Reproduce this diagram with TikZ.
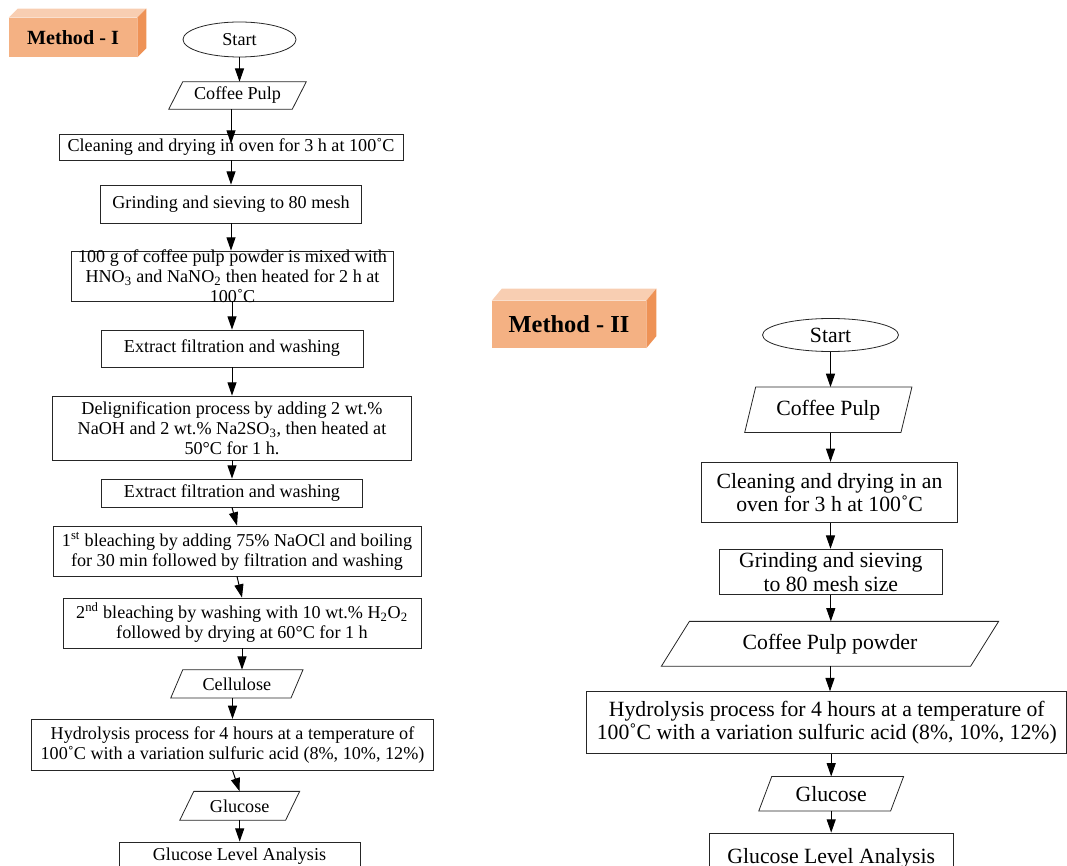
\documentclass[tikz,border=0pt]{standalone}
\usepackage{fontspec}
\setmainfont{Liberation Serif}
\usetikzlibrary{shapes.geometric,arrows.meta,calc}
\definecolor{mfront}{RGB}{244,177,131}
\definecolor{mtop}{RGB}{248,206,178}
\definecolor{mside}{RGB}{238,146,86}
\newcommand\fa{\fontsize{13.6}{15}\selectfont}
\newcommand\fb{\fontsize{16.3}{17.4}\selectfont}
\tikzset{
  sz/.style 2 args={minimum width=#1*0.75pt, minimum height=#2*0.75pt},
  edge/.style={draw=black!85, line width=0.6pt},
  box/.style={edge, rectangle, inner sep=0pt},
  para/.style={rectangle, inner sep=0pt},
  txa/.style={align=center, font=\fa, inner sep=0pt},
  txb/.style={align=center, font=\fb, inner sep=0pt},
  arr/.style={draw=black, line width=0.75pt, -{Triangle[length=10pt,width=6.8pt]}},
  mlab/.style={rectangle, fill=mfront, inner sep=0pt}
}
\newcommand\parashape[2]{\draw[edge] ($(#1.north west)+(#2*0.75pt,0pt)$) -- (#1.north east) -- ($(#1.south east)-(#2*0.75pt,0pt)$) -- (#1.south west) -- cycle;}
\newcommand\methodbox[3]{%
  \fill[mtop] (#1.north west) -- ++(#2*0.75pt,#3*0.75pt) -- ($(#1.north east)+(#2*0.75pt,#3*0.75pt)$) -- (#1.north east) -- cycle;
  \fill[mside] (#1.north east) -- ++(#2*0.75pt,#3*0.75pt) -- ($(#1.south east)+(#2*0.75pt,#3*0.75pt)$) -- (#1.south east) -- cycle;}
\begin{document}
\begin{tikzpicture}[x=0.75pt,y=-0.75pt]
\useasboundingbox (0,0) rectangle (1067,866);

% ---------- Method I ----------
\node[mlab, sz={128}{39}, font=\fontsize{15.1}{16}\selectfont\bfseries] (m1) at (73,37.5) {Method - I};
\methodbox{m1}{9}{9}

\node[ellipse, edge, sz={113}{35}, inner sep=0pt, font=\fa] (s1) at (239.5,39.5) {Start};
\node[para, sz={137}{27}, font=\fa] (cp1) at (237.5,95.5) {Coffee Pulp};
\parashape{cp1}{14}
\node[box, sz={344}{26}, label={[txa]center:Cleaning and drying in oven for 3 h at 100˚C}] (cl1) at (231,147) {};
\node[box, sz={261}{38}, label={[txa]center:Grinding and sieving to 80 mesh}] (gr1) at (231,204) {};
\node[box, sz={322}{50}, label={[txa]center:100 g of coffee pulp powder is mixed with\\HNO\textsubscript{3} and NaNO\textsubscript{2} then heated for 2 h at\\100˚C}] (mx1) at (232.5,276) {};
\node[box, sz={262}{37}, label={[txa]center:Extract filtration and washing}] (ex1) at (232,348.5) {};
\node[box, sz={359}{64}, label={[txa]center:Delignification process by adding 2 wt.\%\\NaOH and 2 wt.\% Na2SO\textsubscript{3}, then heated at\\50°C for 1 h.}] (dl1) at (232,428) {};
\node[box, sz={261}{28}, label={[txa]center:Extract filtration and washing}] (ex2) at (232,493) {};
\node[box, sz={368}{50}, label={[txa]center:1\textsuperscript{st} bleaching by adding 75\% NaOCl and boiling\\for 30 min followed by filtration and washing}] (bl1) at (237,551) {};
\node[box, sz={358}{50}, label={[txa]center:2\textsuperscript{nd} bleaching by washing with 10 wt.\% H\textsubscript{2}O\textsubscript{2}\\followed by drying at 60°C for 1 h}] (bl2) at (242,623) {};
\node[para, sz={131.7}{27.7}, font=\fa] (ce1) at (236.9,683.8) {Cellulose};
\parashape{ce1}{12}
\node[box, sz={401.7}{50.7}, label={[txa]center:Hydrolysis process for 4 hours at a temperature of\\100˚C with a variation sulfuric acid (8\%, 10\%, 12\%)}] (hy1) at (232.5,744.7) {};
\node[para, sz={119.3}{28.3}, font=\fa] (gl1) at (239.7,805.8) {Glucose};
\parashape{gl1}{14}
\node[box, sz={241}{28}, label={[txa]center:Glucose Level Analysis}] (ga1) at (239.5,856) {};

\draw[arr] (s1.south) -- (s1.south |- cp1.north);
\draw[arr] (cp1.south -| cl1.north) -- ($(cl1.north)+(0,10)$);
\draw[arr] (cl1.south) -- (cl1.south |- gr1.north);
\draw[arr] (gr1.south) -- (gr1.south |- mx1.north);
\draw[arr] (mx1.south -| ex1.north) -- (ex1.north);
\draw[arr] (ex1.south) -- (ex1.south |- dl1.north);
\draw[arr] (dl1.south) -- (dl1.south |- ex2.north);
\draw[arr] (ex2.south) -- (bl1.north);
\draw[arr] (bl1.south) -- (bl2.north);
\draw[arr] (bl2.south) -- (bl2.south |- ce1.north);
\draw[arr] (ce1.south -| hy1.north) -- (hy1.north);
\draw[arr] (hy1.south) -- (gl1.north);
\draw[arr] (gl1.south) -- (gl1.south |- ga1.north);

% ---------- Method II ----------
\node[mlab, sz={154}{47}, font=\fontsize{18.3}{19}\selectfont\bfseries] (m2) at (569,324.5) {Method - II};
\methodbox{m2}{10}{12}

\node[ellipse, edge, sz={136}{33}, inner sep=0pt, font=\fb] (s2) at (830.5,335) {Start};
\node[para, sz={166.7}{45}, font=\fb] (cp2) at (828.3,409.8) {Coffee Pulp};
\parashape{cp2}{11}
\node[box, sz={255.7}{60.4}, label={[txb]center:Cleaning and drying in an\\oven for 3 h at 100˚C}] (cl2) at (829.5,492.5) {};
\node[box, sz={223}{45.7}, label={[txb]center:Grinding and sieving\\to 80 mesh size}] (gr2) at (830.8,572) {};
\node[para, sz={336.7}{44.3}, font=\fb] (cpp) at (830,643.8) {Coffee Pulp powder};
\parashape{cpp}{28}
\node[box, sz={480}{61.6}, label={[txb]center:Hydrolysis process for 4 hours at a temperature of\\100˚C with a variation sulfuric acid (8\%, 10\%, 12\%)}] (hy2) at (826.8,722.5) {};
\node[para, sz={144.3}{34}, font=\fb] (gl2) at (831.2,793.7) {Glucose};
\parashape{gl2}{13}
\node[box, sz={244}{50}, label={[txb]center:Glucose Level Analysis}] (ga2) at (831.3,858) {};

\draw[arr] (s2.south) -- (s2.south |- cp2.north);
\draw[arr] (cp2.south -| s2.south) -- (s2.south |- cl2.north);
\draw[arr] (cl2.south -| s2.south) -- (s2.south |- gr2.north);
\draw[arr] (gr2.south) -- (gr2.south |- cpp.north);
\draw[arr] (cpp.south) -- (cpp.south |- hy2.north);
\draw[arr] (gl2.north |- hy2.south) -- (gl2.north);
\draw[arr] (gl2.south) -- (gl2.south |- ga2.north);
\end{tikzpicture}
\end{document}
